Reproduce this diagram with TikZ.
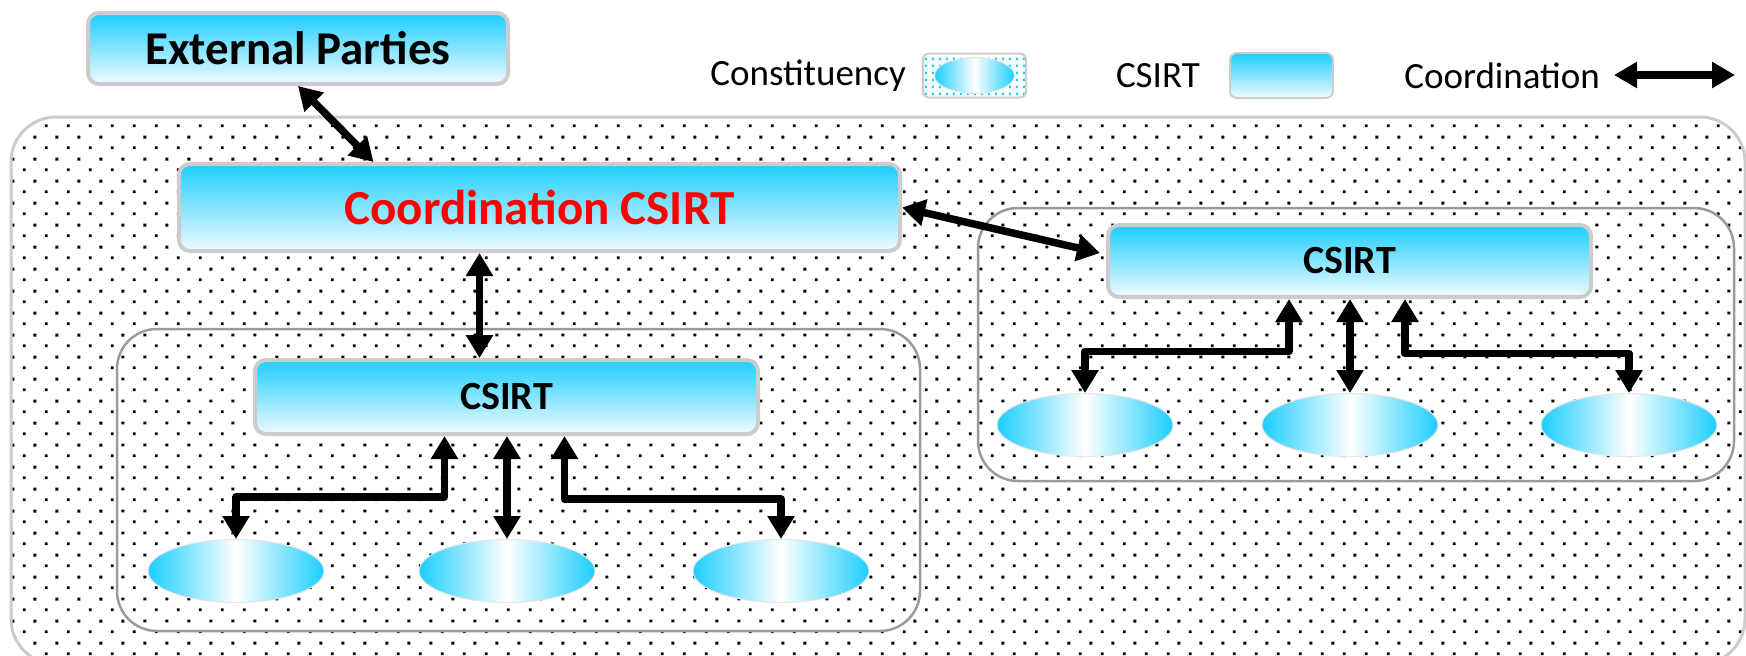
\documentclass[tikz,border=0pt]{standalone}
\usepackage{fontspec}
\setmainfont{Carlito}
\usetikzlibrary{arrows.meta, shapes.geometric, patterns.meta}

\definecolor{csirtcyan}{HTML}{1CCEFF}
\definecolor{csirtpale}{HTML}{F0FBFF}
\definecolor{boxgray}{HTML}{CCCCCC}
\definecolor{framegray}{HTML}{9A9A9A}
\definecolor{titlered}{HTML}{FF0000}

% Puntos en tresbolillo para las zonas de la constituency
\tikzdeclarepattern{
  name=staggerdots,
  type=uncolored,
  bottom left={(0pt,0pt)},
  top right={(22pt,22pt)},
  tile size={(22pt,22pt)},
  code={
    \fill (1pt,1pt) rectangle ++(2.9pt,2.9pt);
    \fill (12pt,12pt) rectangle ++(2.9pt,2.9pt);
  }
}
% Puntos finos de la leyenda
\tikzdeclarepattern{
  name=finedots,
  type=uncolored,
  bottom left={(0pt,0pt)},
  top right={(6.5pt,6.5pt)},
  tile size={(6.5pt,6.5pt)},
  code={
    \fill (2pt,2pt) rectangle ++(2.2pt,2.6pt);
  }
}

\begin{document}
\begin{tikzpicture}[x=1pt, y=-1pt]
  \tikzset{
    csirt_box/.style={rectangle, rounded corners=11pt, draw=boxgray, line width=4pt, top color=csirtcyan, bottom color=csirtpale, inner sep=0pt},
    const_node/.style={ellipse, draw=gray!20, line width=1pt, left color=csirtcyan, right color=csirtcyan, middle color=white, minimum width=176pt, minimum height=63pt, inner sep=0pt},
    frame_box/.style={draw=framegray, line width=2.5pt, rounded corners=40pt, preaction={fill=white}, pattern=staggerdots, pattern color=black},
    link_arrow/.style={{Triangle[length=23pt,width=26pt]}-{Triangle[length=23pt,width=26pt]}, line width=7.5pt, line join=round},
    legend_text/.style={anchor=east, inner sep=0pt, font=\fontsize{37}{44}\selectfont}
  }

  \useasboundingbox (0,0) rectangle (1746,656);

  % Zonas punteadas
  \draw[frame_box, draw=boxgray, line width=3pt, rounded corners=45pt] (11,117) rectangle (1745,664);
  \draw[frame_box] (117,329) rectangle (920,631);
  \draw[frame_box] (978,208) rectangle (1734,481);

  % CSIRTs
  \node[csirt_box, minimum width=420pt, minimum height=71pt, font=\fontsize{47}{54}\selectfont\bfseries] (ext) at (298,48.5) {External Parties};
  \node[csirt_box, minimum width=721pt, minimum height=87pt, text=titlered, font=\fontsize{49}{56}\selectfont\bfseries] (coord) at (539.5,207.5) {Coordination CSIRT};
  \node[csirt_box, minimum width=503pt, minimum height=74pt, font=\fontsize{40}{46}\selectfont\bfseries] (lcs) at (506.5,397) {CSIRT};
  \node[csirt_box, minimum width=483pt, minimum height=72pt, font=\fontsize{40}{46}\selectfont\bfseries] (rcs) at (1349.5,261) {CSIRT};

  % Constituencies
  \node[const_node] (l1) at (236,571) {};
  \node[const_node] (l2) at (507,571) {};
  \node[const_node] (l3) at (781,571) {};
  \node[const_node] (r1) at (1085,425) {};
  \node[const_node] (r2) at (1350,425) {};
  \node[const_node] (r3) at (1629,425) {};

  % Coordinacion entre CSIRTs
  \draw[link_arrow] (ext.south) -- ([xshift=-166pt]coord.north);
  \draw[link_arrow] (coord.east) -- ([xshift=-6pt,yshift=8pt]rcs.west);
  \draw[link_arrow] ([xshift=-60pt]coord.south) -- ([xshift=-60pt]coord.south |- lcs.north);

  % CSIRT izquierdo con sus constituencies
  \draw[link_arrow] (l1.north) -- ++(0,-42) -| ([xshift=-62pt]lcs.south);
  \draw[link_arrow] (l2.north) -- (l2.north |- lcs.south);
  \draw[link_arrow] (l3.north) -- ++(0,-40) -| ([xshift=58pt]lcs.south);

  % CSIRT derecho con sus constituencies
  \draw[link_arrow] (r1.north) -- ++(0,-41.5) -| ([xshift=-60.5pt]rcs.south);
  \draw[link_arrow] (r2.north) -- (r2.north |- rcs.south);
  \draw[link_arrow] (r3.north) -- ++(0,-39.5) -| ([xshift=55.5pt]rcs.south);

  % Leyenda
  \node[legend_text] (lg_const) at (906,76) {Constituency};
  \node[draw=boxgray, line width=2pt, rounded corners=6pt, minimum width=103pt, minimum height=44pt, inner sep=0pt, pattern=finedots, pattern color=csirtcyan] (lg_cbox) at (974.5,75.5) {};
  \node[const_node, minimum width=80pt, minimum height=36pt] (lg_ell) at (lg_cbox.center) {};
  \node[legend_text] (lg_csirt) at (1200,76) {CSIRT};
  \node[csirt_box, line width=2pt, rounded corners=7pt, minimum width=103pt, minimum height=45pt] (lg_box) at (1281.5,75.5) {};
  \node[legend_text] (lg_coord) at (1600,76) {Coordination};
  \coordinate (lg_a) at (1614,75);
  \coordinate (lg_b) at (1735,75);
  \draw[link_arrow, line width=8pt, {Triangle[length=23pt,width=25pt]}-{Triangle[length=23pt,width=25pt]}] (lg_a) -- (lg_b);
\end{tikzpicture}
\end{document}
